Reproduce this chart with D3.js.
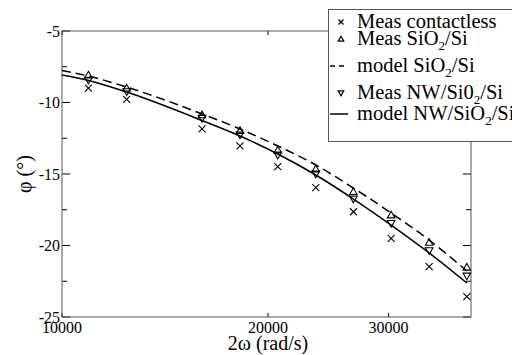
<!DOCTYPE html>
<html>
<head>
<meta charset="utf-8">
<script src="https://cdn.jsdelivr.net/npm/d3@7"></script>
</head>
<body style="margin:0">
<svg width="512" height="355"></svg>
<script>
// measured frequencies 2ω (rad/s)
const freq = [10930, 12430, 16020, 18200, 20670, 23490, 26660, 30270, 34400, 39050];
const measContactless = [-9.0, -9.78, -11.85, -13.04, -14.49, -15.96, -17.64, -19.5, -21.48, -23.58];
const measSiO2 = [-8.08, -9.0, -10.87, -11.97, -13.32, -14.65, -16.24, -17.87, -19.78, -21.52];
const measNW = [-8.43, -9.24, -11.1, -12.27, -13.67, -15.0, -16.75, -18.45, -20.36, -22.13];

// model curves
const modelFreq = [10000, 10930, 12430, 16020, 18200, 20670, 23490, 26660, 30270, 34400, 39050];
const modelSiO2 = [-7.76, -8.15, -8.92, -10.8, -11.85, -13.04, -14.37, -15.98, -17.73, -19.62, -21.78];
const modelNW = [-8.08, -8.46, -9.27, -11.26, -12.34, -13.6, -15.07, -16.75, -18.57, -20.52, -22.62];

const xTicks = [10000, 20000, 30000];
const yTicks = [-5, -10, -15, -20, -25];
const yMinorTicks = [-7.5, -12.5, -17.5, -22.5];

const LEFT = 62, RIGHT = 471, TOP = 31, BOTTOM = 317;
const FRAME = "#555";
const FONT = '"Liberation Serif"';

const svg = d3.select("svg");

const x = d3.scaleLog().domain([10000, 39600]).range([LEFT, RIGHT]);
const y = d3.scaleLinear().domain([-25, -5]).range([BOTTOM, TOP]);

// ticks (inward, mirrored on all sides)
const ticks = svg.append("g").attr("stroke", "#000").attr("stroke-width", 1);
yTicks.forEach(v => {
   ticks.append("line").attr("x1", LEFT).attr("x2", LEFT + 8).attr("y1", y(v)).attr("y2", y(v));
   ticks.append("line").attr("x1", RIGHT).attr("x2", RIGHT - 8).attr("y1", y(v)).attr("y2", y(v));
});
yMinorTicks.forEach(v => {
   ticks.append("line").attr("x1", LEFT).attr("x2", LEFT + 5).attr("y1", y(v)).attr("y2", y(v));
   ticks.append("line").attr("x1", RIGHT).attr("x2", RIGHT - 5).attr("y1", y(v)).attr("y2", y(v));
});
xTicks.forEach(v => {
   ticks.append("line").attr("x1", x(v)).attr("x2", x(v)).attr("y1", BOTTOM).attr("y2", BOTTOM - 4);
   ticks.append("line").attr("x1", x(v)).attr("x2", x(v)).attr("y1", TOP).attr("y2", TOP + 4);
});

svg.append("rect")
   .attr("x", LEFT).attr("y", TOP)
   .attr("width", RIGHT - LEFT).attr("height", BOTTOM - TOP)
   .attr("fill", "none").attr("stroke", FRAME).attr("stroke-width", 1);

// tick labels
svg.append("g").selectAll("text").data(yTicks).join("text")
   .attr("x", LEFT - 2).attr("y", d => y(d)).attr("dy", "0.35em")
   .attr("text-anchor", "end").attr("font-size", 16)
   .style("font-family", FONT)
   .text(d => String(d));
svg.append("g").selectAll("text").data(xTicks).join("text")
   .attr("x", d => x(d)).attr("y", BOTTOM + 16)
   .attr("text-anchor", "middle").attr("font-size", 16)
   .style("font-family", FONT)
   .text(d => String(d));

// axis titles
svg.append("text")
   .attr("x", 268).attr("y", 350)
   .attr("text-anchor", "middle").attr("font-size", 20)
   .style("font-family", FONT)
   .text("2ω (rad/s)");
svg.append("text")
   .attr("transform", `translate(31,${(TOP + BOTTOM) / 2}) rotate(-90)`)
   .attr("text-anchor", "middle").attr("font-size", 20)
   .style("font-family", FONT)
   .text("φ (°)");

// model lines
const line = d3.line().x(d => x(d[0])).y(d => y(d[1])).curve(d3.curveMonotoneX);
svg.append("path")
   .datum(modelFreq.map((f, i) => [f, modelSiO2[i]]))
   .attr("d", line).attr("fill", "none")
   .attr("stroke", "#000").attr("stroke-width", 1.5).attr("stroke-dasharray", "9,5");
svg.append("path")
   .datum(modelFreq.map((f, i) => [f, modelNW[i]]))
   .attr("d", line).attr("fill", "none")
   .attr("stroke", "#000").attr("stroke-width", 1.5);

// markers
const cross = s => `M${-s},${-s}L${s},${s}M${s},${-s}L${-s},${s}`;
const triUp = s => `M0,${-s}L${s},${s * 0.75}L${-s},${s * 0.75}Z`;
const triDown = s => `M0,${s}L${s},${-s * 0.75}L${-s},${-s * 0.75}Z`;

function drawMarks(vals, shape, size) {
   svg.append("g").selectAll("path").data(vals).join("path")
      .attr("transform", (d, i) => `translate(${x(freq[i])},${y(d)})`)
      .attr("d", shape(size))
      .attr("fill", "none").attr("stroke", "#000").attr("stroke-width", 1.1);
}
drawMarks(measContactless, cross, 3.5);
drawMarks(measSiO2, triUp, 3.8);
drawMarks(measNW, triDown, 3.8);

// legend
const legend = svg.append("g");
legend.append("rect")
   .attr("x", 328.5).attr("y", 9.5).attr("width", 400).attr("height", 132)
   .attr("fill", "#fff").attr("stroke", FRAME).attr("stroke-width", 1);

function legendText(yPos, parts) {
   const t = legend.append("text").attr("x", 357).attr("y", yPos)
      .attr("font-size", 20.5).style("font-family", FONT);
   parts.forEach(p => {
      if (p.sub) {
         t.append("tspan").attr("font-size", 13).attr("dy", 5).text(p.sub);
      } else {
         t.append("tspan").attr("dy", p.after ? -5 : 0).text(p.t);
      }
   });
}
const mk = 341;
legend.append("path").attr("transform", `translate(${mk},22)`).attr("d", cross(2.5))
   .attr("fill", "none").attr("stroke", "#000").attr("stroke-width", 1.2);
legendText(28, [{t: "Meas contactless"}]);

legend.append("path").attr("transform", `translate(${mk},39)`).attr("d", triUp(2.8))
   .attr("fill", "none").attr("stroke", "#000").attr("stroke-width", 1.2);
legendText(45, [{t: "Meas SiO"}, {sub: "2"}, {t: "/Si", after: true}]);

legend.append("line").attr("x1", 330).attr("x2", 348).attr("y1", 66).attr("y2", 66)
   .attr("stroke", "#000").attr("stroke-width", 1.5).attr("stroke-dasharray", "5,4");
legendText(72, [{t: "model SiO"}, {sub: "2"}, {t: "/Si", after: true}]);

legend.append("path").attr("transform", `translate(${mk},93)`).attr("d", triDown(2.8))
   .attr("fill", "none").attr("stroke", "#000").attr("stroke-width", 1.2);
legendText(99, [{t: "Meas NW/Si0"}, {sub: "2"}, {t: "/Si", after: true}]);

legend.append("line").attr("x1", 330).attr("x2", 348).attr("y1", 114).attr("y2", 114)
   .attr("stroke", "#000").attr("stroke-width", 1.5);
legendText(120, [{t: "model NW/SiO"}, {sub: "2"}, {t: "/Si", after: true}]);
</script>
</body>
</html>
